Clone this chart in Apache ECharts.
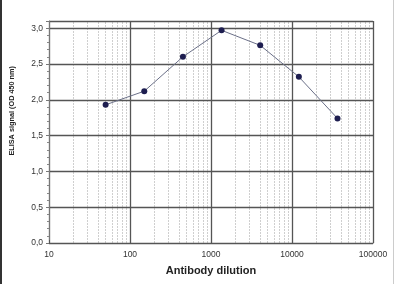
<!DOCTYPE html>
<html><head><meta charset="utf-8">
<script src="https://cdn.jsdelivr.net/npm/echarts@6/dist/echarts.min.js"></script>
<style>html,body{margin:0;padding:0;background:#fff;}#c{width:400px;height:284px;}</style>
</head><body><div id="c"></div>
<script>
const dilutions = [50, 150, 450, 1350, 4050, 12150, 36450];
const signal = [1.93, 2.12, 2.60, 2.97, 2.76, 2.32, 1.74];
const xTicks = [10, 100, 1000, 10000, 100000];
const yTicks = [0, 0.5, 1.0, 1.5, 2.0, 2.5, 3.0];
const xMinorGrid = [20,30,40,50,60,70,80,90,200,300,400,500,600,700,800,900,2000,3000,4000,5000,6000,7000,8000,9000,20000,30000,40000,50000,60000,70000,80000,90000];

const chart = echarts.init(document.getElementById('c'), null, {renderer:'canvas'});
const font = '"Liberation Sans", Arial, sans-serif';
chart.setOption({
  animation:false,
  backgroundColor:'#fff',
  grid:{left:49, right:27, top:21, bottom:41, z:2},
  xAxis:{
    type:'log', logBase:10, min:10, max:100000, z:2,
    name:'Antibody dilution', nameLocation:'middle', nameGap:22,
    nameTextStyle:{fontFamily:font, fontWeight:'bold', fontSize:11, color:'#222'},
    axisLine:{show:true, lineStyle:{color:'#555', width:1}},
    axisTick:{show:true, inside:true, length:3, lineStyle:{color:'#555'}},
    axisLabel:{fontFamily:font, fontSize:8.5, color:'#333', margin:7,
      formatter:function(v){ return String(v); }},
    splitLine:{show:true, lineStyle:{color:'#555', width:1.3}}
  },
  yAxis:{
    type:'value', min:0, max:3.1, interval:0.5, z:2,
    axisLine:{show:true, lineStyle:{color:'#777', width:1}},
    axisTick:{show:true, length:3, lineStyle:{color:'#777'}},
    minorTick:{show:true, splitNumber:5, length:2, lineStyle:{color:'#888'}},
    axisLabel:{fontFamily:font, fontSize:8.5, color:'#333', margin:6, showMaxLabel:false,
      formatter:function(v){ return yTicks.indexOf(v) >= 0 ? v.toFixed(1).replace('.', ',') : ''; }},
    splitLine:{show:true, lineStyle:{color:'#555', width:1.3}}
  },
  graphic:[
    {type:'rect', left:0, top:0, shape:{width:2, height:284}, style:{fill:'#333'}},
    {type:'rect', left:393, top:0, shape:{width:1, height:284}, style:{fill:'#ccc'}},
    {type:'text', left:8, top:66, rotation:Math.PI/2,
      style:{text:'ELISA signal (OD 450 nm)', fill:'#222', font:'bold 7.3px "Liberation Sans", Arial, sans-serif'}}
  ],
  series:[{
    type:'line',
    data: dilutions.map((d,i)=>[d, signal[i]]),
    symbol:'circle', symbolSize:6,
    lineStyle:{color:'#6b7088', width:1},
    itemStyle:{color:'#1e1e50'},
    z:5,
    markLine:{
      silent:true, symbol:'none', label:{show:false}, z:0,
      lineStyle:{color:'#cfcfcf', type:[2,1], width:1},
      data: xMinorGrid.map(v=>({xAxis:v}))
    }
  }]
});
</script></body></html>
